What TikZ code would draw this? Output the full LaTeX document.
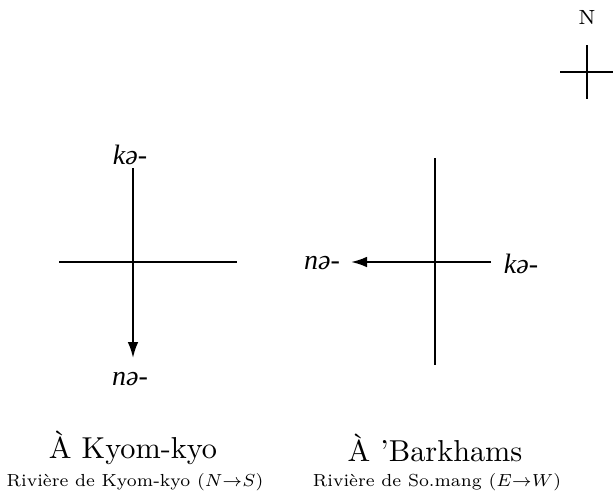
\documentclass[tikz,border=0pt]{standalone}
\usepackage{fontspec}
\newfontfamily\schwafont{Liberation Serif Italic}
\usetikzlibrary{arrows.meta}
\tikzset{
  ln/.style={line width=1.5pt},
  arr/.style={ln,-{Latex[length=12pt,width=8pt]}},
  pref/.style={inner sep=0pt,font=\schwafont\fontsize{21}{23}\selectfont},
  ttl/.style={inner sep=0pt},
}
\newcommand{\bigtitle}[1]{\scalebox{2.27}{\normalsize #1}}
\newcommand{\subt}[1]{\scalebox{1.87}{\scriptsize #1}}
\begin{document}
\begin{tikzpicture}[x=0.75pt,y=-0.75pt]
\useasboundingbox (0,0) rectangle (613,497);
% north sign
\node[ttl] (N) at (587,17) {\scalebox{2.2}{\scriptsize N}};
\coordinate (nt) at (587,45); \coordinate (nb) at (587,99);
\coordinate (nl) at (560,72); \coordinate (nr) at (613,72);
\draw[ln] (nt) -- (nb);
\draw[ln] (nl) -- (nr);
% left cross
\node[pref] (lk) at (130,155) {kə-};
\node[pref] (ln) at (130,379) {nə-};
\coordinate (lt) at (133,168); \coordinate (lb) at (133,358);
\coordinate (ll) at (59,262); \coordinate (lr) at (237,262);
\draw[ln] (ll) -- (lr);
\draw[arr] (lt) -- (lb);
% right cross
\node[pref] (rn) at (322,263) {nə-};
\node[pref] (rk) at (521,264) {kə-};
\coordinate (rt) at (435,158); \coordinate (rb) at (435,365);
\coordinate (rr) at (491,262); \coordinate (rl) at (351,262);
\draw[ln] (rt) -- (rb);
\draw[arr] (rr) -- (rl);
% titles
\node[ttl] (t1) at (133,448) {\bigtitle{À Kyom-kyo}};
\node[ttl] (s1) at (135,482) {\subt{Rivière de Kyom-kyo ($N{\to}S$)}};
\node[ttl] (t2) at (435,448) {\bigtitle{À 'Barkhams}};
\node[ttl] (s2) at (437,482) {\subt{Rivière de So.mang ($E{\to}W$)}};
\end{tikzpicture}
\end{document}
